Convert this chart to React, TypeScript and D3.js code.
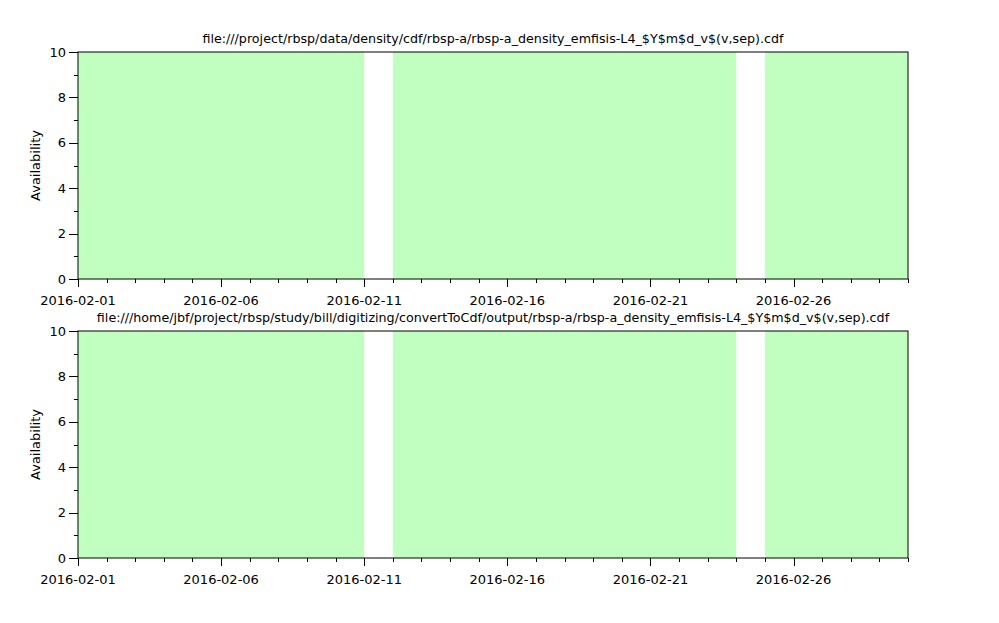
import React, {useEffect, useRef} from 'react';
import * as d3 from 'd3';

// intervals with data (start inclusive, end exclusive)
const availStart = ["2016-02-01", "2016-02-12", "2016-02-25"];
const availEnd = ["2016-02-11", "2016-02-24", "2016-03-01"];
const availValue = [10, 10, 10];

const titles = [
    "file:///project/rbsp/data/density/cdf/rbsp-a/rbsp-a_density_emfisis-L4_$Y$m$d_v$(v,sep).cdf",
    "file:///home/jbf/project/rbsp/study/bill/digitizing/convertToCdf/output/rbsp-a/rbsp-a_density_emfisis-L4_$Y$m$d_v$(v,sep).cdf"
];
const xTicks = ["2016-02-01", "2016-02-06", "2016-02-11", "2016-02-16", "2016-02-21", "2016-02-26"];
const yTicks = [0, 2, 4, 6, 8, 10];

const width = 999;
const height = 623;
const left = 78;
const right = 908;
const panelTops = [52, 331];
const panelH = 227;
const font = "DejaVu Sans, sans-serif";

function App() {
    const svgRef = useRef<SVGSVGElement>(null);

    useEffect(() => {
        const svg = d3.select(svgRef.current);
        svg.selectAll("*").remove();
        const parse = d3.utcParse("%Y-%m-%d");

        const xScale = d3.scaleUtc()
            .domain([parse("2016-02-01")!, parse("2016-03-01")!])
            .range([left, right]);

        const data = availStart.map((s, i) => ({start: parse(s)!, end: parse(availEnd[i])!, v: availValue[i]}));

        panelTops.forEach((top, p) => {
            const yScale = d3.scaleLinear().domain([0, 10]).range([top + panelH, top]);
            const g = svg.append("g");

            g.selectAll("rect.avail")
                .data(data)
                .join("rect")
                .attr("class", "avail")
                .attr("x", d => xScale(d.start))
                .attr("width", d => xScale(d.end) - xScale(d.start))
                .attr("y", d => yScale(d.v))
                .attr("height", d => yScale(0) - yScale(d.v))
                .attr("fill", "#c0ffc0");

            // frame
            g.append("rect")
                .attr("x", left)
                .attr("y", top)
                .attr("width", right - left)
                .attr("height", panelH)
                .attr("fill", "none")
                .attr("stroke", "black")
                .attr("stroke-width", 1);

            // x axis: major + daily minor ticks
            const days = d3.utcDay.range(xScale.domain()[0], d3.utcDay.offset(xScale.domain()[1], 1));
            g.selectAll("line.xminor")
                .data(days)
                .join("line")
                .attr("x1", d => Math.round(xScale(d)) + 0.5)
                .attr("x2", d => Math.round(xScale(d)) + 0.5)
                .attr("y1", top + panelH)
                .attr("y2", top + panelH + 4)
                .attr("stroke", "black");

            const majors = xTicks.map(t => parse(t)!);
            g.selectAll("line.xmajor")
                .data(majors)
                .join("line")
                .attr("x1", d => Math.round(xScale(d)) + 0.5)
                .attr("x2", d => Math.round(xScale(d)) + 0.5)
                .attr("y1", top + panelH)
                .attr("y2", top + panelH + 8)
                .attr("stroke", "black");

            g.selectAll("text.xlab")
                .data(xTicks)
                .join("text")
                .attr("x", d => xScale(parse(d)!))
                .attr("y", top + panelH + 26)
                .attr("text-anchor", "middle")
                .attr("font-family", font)
                .attr("font-size", 13)
                .text(d => d);

            // y axis
            const minorY = d3.range(1, 10, 2);
            g.selectAll("line.yminor")
                .data(minorY)
                .join("line")
                .attr("x1", left - 4)
                .attr("x2", left)
                .attr("y1", d => Math.round(yScale(d)) + 0.5)
                .attr("y2", d => Math.round(yScale(d)) + 0.5)
                .attr("stroke", "black");
            g.selectAll("line.ymajor")
                .data(yTicks)
                .join("line")
                .attr("x1", left - 9)
                .attr("x2", left)
                .attr("y1", d => Math.round(yScale(d)) + 0.5)
                .attr("y2", d => Math.round(yScale(d)) + 0.5)
                .attr("stroke", "black");
            g.selectAll("text.ylab")
                .data(yTicks)
                .join("text")
                .attr("x", left - 12)
                .attr("y", d => yScale(d))
                .attr("dy", "0.36em")
                .attr("text-anchor", "end")
                .attr("font-family", font)
                .attr("font-size", 13)
                .text(d => d);

            g.append("text")
                .attr("transform", "translate(40," + (top + panelH / 2) + ") rotate(-90)")
                .attr("text-anchor", "middle")
                .attr("font-family", font)
                .attr("font-size", 13)
                .text("Availability");

            g.append("text")
                .attr("x", (left + right) / 2)
                .attr("y", top - 9)
                .attr("text-anchor", "middle")
                .attr("font-family", font)
                .attr("font-size", 12.7)
                .text(titles[p]);
        });
    }, []);

    return (
        <svg ref={svgRef} width={width} height={height}
             style={{position: "absolute", left: 0, top: 0, background: "white"}}>
        </svg>
    );
}

export default App;
